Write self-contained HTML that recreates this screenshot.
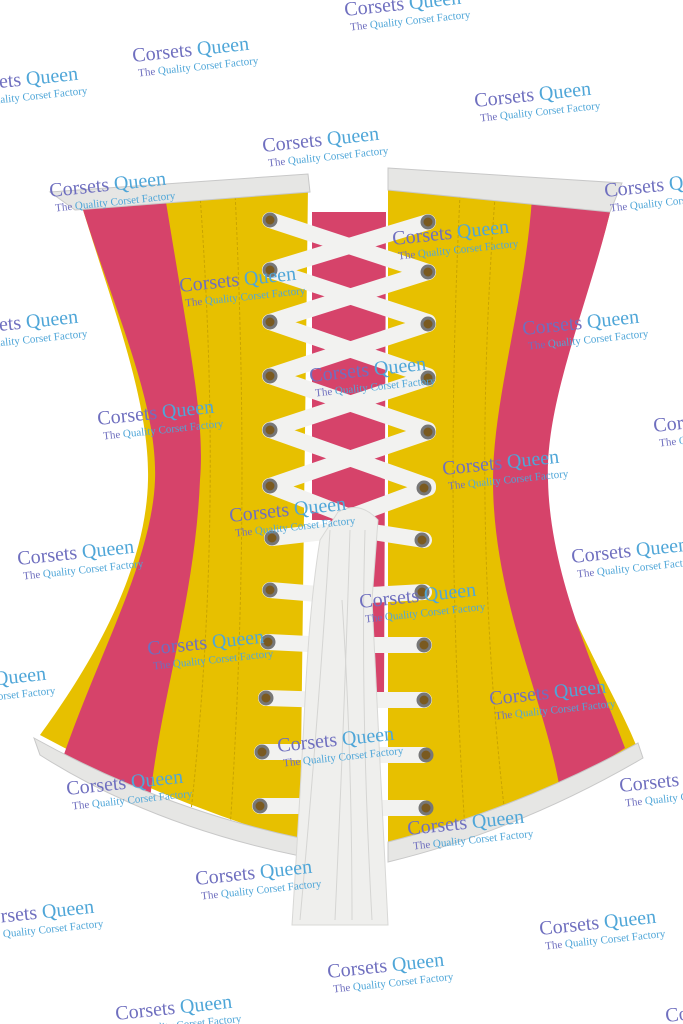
<!DOCTYPE html>
<html><head><meta charset="utf-8"><style>
html,body{margin:0;padding:0;background:#fff;}
svg{display:block}
.w1{font-family:"Liberation Serif",serif;font-size:20px;}
.w2{font-family:"Liberation Serif",serif;font-size:11px;}
</style></head><body>
<svg width="683" height="1024" viewBox="0 0 683 1024" xmlns="http://www.w3.org/2000/svg">
<!-- center pink gap -->
<path d="M312,212 L386,212 L384,700 L370,700 L366,560 L330,520 L312,520 Z" fill="#d6436a"/>
<!-- left half -->
<path d="M80,200 L308,186 L300,842 Q160,800 40,735 C80,680 146,580 148,480 C150,400 110,300 80,200 Z" fill="#e7c000"/>
<path d="M80,200 L165,196 C190,350 205,420 200,480 C195,600 160,700 150,800 L62,760 C100,650 152,560 155,480 C158,400 110,300 80,200 Z" fill="#d6436a"/>
<!-- right half -->
<path d="M388,188 L612,204 C590,300 540,400 540,480 C540,580 610,680 636,745 Q520,810 388,845 Z" fill="#e7c000"/>
<path d="M532,198 L612,204 C590,300 545,400 548,480 C550,580 600,680 625,748 L560,790 C545,700 493,600 493,480 C493,400 525,300 532,198 Z" fill="#d6436a"/>
<!-- seams -->
<g stroke="#c9a400" stroke-width="1" stroke-dasharray="3,2" fill="none">
<path d="M200,195 C215,400 215,600 190,820"/><path d="M235,192 C245,400 245,600 230,830"/>
<path d="M460,195 C450,400 450,600 465,830"/><path d="M495,197 C480,400 480,600 505,815"/>
</g>
<!-- trim -->
<path d="M50,192 L308,174 L310,192 L75,210 Z" fill="#e6e6e4" stroke="#c8c8c8"/>
<path d="M388,168 L622,183 L610,212 L388,190 Z" fill="#e6e6e4" stroke="#c8c8c8"/>
<path d="M34,738 Q160,808 300,838 L300,856 Q150,825 40,755 Z" fill="#e6e6e4" stroke="#c8c8c8"/>
<path d="M388,842 Q520,808 638,743 L643,758 Q520,830 388,862 Z" fill="#e6e6e4" stroke="#c8c8c8"/>
<!-- laces crosses -->
<g stroke="#f2f2f0" stroke-width="16" stroke-linecap="round">
<line x1="270" y1="220" x2="428" y2="272"/><line x1="428" y1="222" x2="270" y2="270"/>
<line x1="270" y1="270" x2="428" y2="322"/><line x1="428" y1="272" x2="270" y2="322"/>
<line x1="270" y1="322" x2="428" y2="376"/><line x1="428" y1="324" x2="270" y2="376"/>
<line x1="270" y1="376" x2="428" y2="430"/><line x1="428" y1="378" x2="270" y2="430"/>
<line x1="270" y1="430" x2="428" y2="486"/><line x1="428" y1="432" x2="270" y2="486"/>
<line x1="270" y1="486" x2="345" y2="515"/><line x1="428" y1="488" x2="355" y2="515"/>
<line x1="272" y1="538" x2="342" y2="530"/><line x1="424" y1="540" x2="360" y2="530"/>
<line x1="270" y1="590" x2="330" y2="595"/><line x1="424" y1="592" x2="370" y2="595"/>
<line x1="268" y1="642" x2="330" y2="645"/><line x1="424" y1="645" x2="370" y2="645"/>
<line x1="266" y1="698" x2="330" y2="700"/><line x1="424" y1="700" x2="370" y2="700"/>
<line x1="262" y1="752" x2="330" y2="752"/><line x1="424" y1="755" x2="370" y2="755"/>
<line x1="260" y1="806" x2="330" y2="806"/><line x1="424" y1="808" x2="370" y2="808"/>
</g>
<!-- hanging laces -->
<path d="M338,512 Q360,500 378,520 L372,600 Q380,750 388,925 L292,925 Q300,800 305,700 Q310,600 320,540 Z" fill="#efefed" stroke="#d8d8d6"/>
<g stroke="#d5d5d3" stroke-width="1" fill="none">
<path d="M330,530 Q320,700 300,920"/><path d="M350,530 Q345,700 335,920"/><path d="M365,530 Q360,700 372,920"/><path d="M342,600 Q352,750 352,920"/>
</g>
<!-- grommets -->
<g fill="#7a5a20" stroke="#777" stroke-width="3">
<circle cx="270" cy="220" r="6"/><circle cx="428" cy="222" r="6"/>
<circle cx="270" cy="270" r="6"/><circle cx="428" cy="272" r="6"/>
<circle cx="270" cy="322" r="6"/><circle cx="428" cy="324" r="6"/>
<circle cx="270" cy="376" r="6"/><circle cx="428" cy="378" r="6"/>
<circle cx="270" cy="430" r="6"/><circle cx="428" cy="432" r="6"/>
<circle cx="270" cy="486" r="6"/><circle cx="424" cy="488" r="6"/>
<circle cx="272" cy="538" r="6"/><circle cx="422" cy="540" r="6"/>
<circle cx="270" cy="590" r="6"/><circle cx="422" cy="592" r="6"/>
<circle cx="268" cy="642" r="6"/><circle cx="424" cy="645" r="6"/>
<circle cx="266" cy="698" r="6"/><circle cx="424" cy="700" r="6"/>
<circle cx="262" cy="752" r="6"/><circle cx="426" cy="755" r="6"/>
<circle cx="260" cy="806" r="6"/><circle cx="426" cy="808" r="6"/>
</g>
<!-- watermarks -->
<g>
<g transform="translate(133,62) rotate(-6)"><text class="w1" fill="#6f6fbf">Corsets <tspan fill="#4fa6d8">Queen</tspan></text><text class="w2" x="4" y="15" fill="#6f6fbf">The <tspan fill="#4fa6d8">Quality Corset Factory</tspan></text></g>
<g transform="translate(345,16) rotate(-6)"><text class="w1" fill="#6f6fbf">Corsets <tspan fill="#4fa6d8">Queen</tspan></text><text class="w2" x="4" y="15" fill="#6f6fbf">The <tspan fill="#4fa6d8">Quality Corset Factory</tspan></text></g>
<g transform="translate(-38,92) rotate(-6)"><text class="w1" fill="#6f6fbf">Corsets <tspan fill="#4fa6d8">Queen</tspan></text><text class="w2" x="4" y="15" fill="#6f6fbf">The <tspan fill="#4fa6d8">Quality Corset Factory</tspan></text></g>
<g transform="translate(475,107) rotate(-6)"><text class="w1" fill="#6f6fbf">Corsets <tspan fill="#4fa6d8">Queen</tspan></text><text class="w2" x="4" y="15" fill="#6f6fbf">The <tspan fill="#4fa6d8">Quality Corset Factory</tspan></text></g>
<g transform="translate(263,152) rotate(-6)"><text class="w1" fill="#6f6fbf">Corsets <tspan fill="#4fa6d8">Queen</tspan></text><text class="w2" x="4" y="15" fill="#6f6fbf">The <tspan fill="#4fa6d8">Quality Corset Factory</tspan></text></g>
<g transform="translate(50,197) rotate(-6)"><text class="w1" fill="#6f6fbf">Corsets <tspan fill="#4fa6d8">Queen</tspan></text><text class="w2" x="4" y="15" fill="#6f6fbf">The <tspan fill="#4fa6d8">Quality Corset Factory</tspan></text></g>
<g transform="translate(605,197) rotate(-6)"><text class="w1" fill="#6f6fbf">Corsets <tspan fill="#4fa6d8">Queen</tspan></text><text class="w2" x="4" y="15" fill="#6f6fbf">The <tspan fill="#4fa6d8">Quality Corset Factory</tspan></text></g>
<g transform="translate(393,245) rotate(-6)"><text class="w1" fill="#6f6fbf">Corsets <tspan fill="#4fa6d8">Queen</tspan></text><text class="w2" x="4" y="15" fill="#6f6fbf">The <tspan fill="#4fa6d8">Quality Corset Factory</tspan></text></g>
<g transform="translate(180,292) rotate(-6)"><text class="w1" fill="#6f6fbf">Corsets <tspan fill="#4fa6d8">Queen</tspan></text><text class="w2" x="4" y="15" fill="#6f6fbf">The <tspan fill="#4fa6d8">Quality Corset Factory</tspan></text></g>
<g transform="translate(-38,335) rotate(-6)"><text class="w1" fill="#6f6fbf">Corsets <tspan fill="#4fa6d8">Queen</tspan></text><text class="w2" x="4" y="15" fill="#6f6fbf">The <tspan fill="#4fa6d8">Quality Corset Factory</tspan></text></g>
<g transform="translate(523,335) rotate(-6)"><text class="w1" fill="#6f6fbf">Corsets <tspan fill="#4fa6d8">Queen</tspan></text><text class="w2" x="4" y="15" fill="#6f6fbf">The <tspan fill="#4fa6d8">Quality Corset Factory</tspan></text></g>
<g transform="translate(310,382) rotate(-6)"><text class="w1" fill="#6f6fbf">Corsets <tspan fill="#4fa6d8">Queen</tspan></text><text class="w2" x="4" y="15" fill="#6f6fbf">The <tspan fill="#4fa6d8">Quality Corset Factory</tspan></text></g>
<g transform="translate(98,425) rotate(-6)"><text class="w1" fill="#6f6fbf">Corsets <tspan fill="#4fa6d8">Queen</tspan></text><text class="w2" x="4" y="15" fill="#6f6fbf">The <tspan fill="#4fa6d8">Quality Corset Factory</tspan></text></g>
<g transform="translate(654,432) rotate(-6)"><text class="w1" fill="#6f6fbf">Corsets <tspan fill="#4fa6d8">Queen</tspan></text><text class="w2" x="4" y="15" fill="#6f6fbf">The <tspan fill="#4fa6d8">Quality Corset Factory</tspan></text></g>
<g transform="translate(443,475) rotate(-6)"><text class="w1" fill="#6f6fbf">Corsets <tspan fill="#4fa6d8">Queen</tspan></text><text class="w2" x="4" y="15" fill="#6f6fbf">The <tspan fill="#4fa6d8">Quality Corset Factory</tspan></text></g>
<g transform="translate(230,522) rotate(-6)"><text class="w1" fill="#6f6fbf">Corsets <tspan fill="#4fa6d8">Queen</tspan></text><text class="w2" x="4" y="15" fill="#6f6fbf">The <tspan fill="#4fa6d8">Quality Corset Factory</tspan></text></g>
<g transform="translate(18,565) rotate(-6)"><text class="w1" fill="#6f6fbf">Corsets <tspan fill="#4fa6d8">Queen</tspan></text><text class="w2" x="4" y="15" fill="#6f6fbf">The <tspan fill="#4fa6d8">Quality Corset Factory</tspan></text></g>
<g transform="translate(572,563) rotate(-6)"><text class="w1" fill="#6f6fbf">Corsets <tspan fill="#4fa6d8">Queen</tspan></text><text class="w2" x="4" y="15" fill="#6f6fbf">The <tspan fill="#4fa6d8">Quality Corset Factory</tspan></text></g>
<g transform="translate(360,608) rotate(-6)"><text class="w1" fill="#6f6fbf">Corsets <tspan fill="#4fa6d8">Queen</tspan></text><text class="w2" x="4" y="15" fill="#6f6fbf">The <tspan fill="#4fa6d8">Quality Corset Factory</tspan></text></g>
<g transform="translate(148,655) rotate(-6)"><text class="w1" fill="#6f6fbf">Corsets <tspan fill="#4fa6d8">Queen</tspan></text><text class="w2" x="4" y="15" fill="#6f6fbf">The <tspan fill="#4fa6d8">Quality Corset Factory</tspan></text></g>
<g transform="translate(-70,692) rotate(-6)"><text class="w1" fill="#6f6fbf">Corsets <tspan fill="#4fa6d8">Queen</tspan></text><text class="w2" x="4" y="15" fill="#6f6fbf">The <tspan fill="#4fa6d8">Quality Corset Factory</tspan></text></g>
<g transform="translate(490,705) rotate(-6)"><text class="w1" fill="#6f6fbf">Corsets <tspan fill="#4fa6d8">Queen</tspan></text><text class="w2" x="4" y="15" fill="#6f6fbf">The <tspan fill="#4fa6d8">Quality Corset Factory</tspan></text></g>
<g transform="translate(278,752) rotate(-6)"><text class="w1" fill="#6f6fbf">Corsets <tspan fill="#4fa6d8">Queen</tspan></text><text class="w2" x="4" y="15" fill="#6f6fbf">The <tspan fill="#4fa6d8">Quality Corset Factory</tspan></text></g>
<g transform="translate(67,795) rotate(-6)"><text class="w1" fill="#6f6fbf">Corsets <tspan fill="#4fa6d8">Queen</tspan></text><text class="w2" x="4" y="15" fill="#6f6fbf">The <tspan fill="#4fa6d8">Quality Corset Factory</tspan></text></g>
<g transform="translate(620,792) rotate(-6)"><text class="w1" fill="#6f6fbf">Corsets <tspan fill="#4fa6d8">Queen</tspan></text><text class="w2" x="4" y="15" fill="#6f6fbf">The <tspan fill="#4fa6d8">Quality Corset Factory</tspan></text></g>
<g transform="translate(408,835) rotate(-6)"><text class="w1" fill="#6f6fbf">Corsets <tspan fill="#4fa6d8">Queen</tspan></text><text class="w2" x="4" y="15" fill="#6f6fbf">The <tspan fill="#4fa6d8">Quality Corset Factory</tspan></text></g>
<g transform="translate(196,885) rotate(-6)"><text class="w1" fill="#6f6fbf">Corsets <tspan fill="#4fa6d8">Queen</tspan></text><text class="w2" x="4" y="15" fill="#6f6fbf">The <tspan fill="#4fa6d8">Quality Corset Factory</tspan></text></g>
<g transform="translate(-22,925) rotate(-6)"><text class="w1" fill="#6f6fbf">Corsets <tspan fill="#4fa6d8">Queen</tspan></text><text class="w2" x="4" y="15" fill="#6f6fbf">The <tspan fill="#4fa6d8">Quality Corset Factory</tspan></text></g>
<g transform="translate(540,935) rotate(-6)"><text class="w1" fill="#6f6fbf">Corsets <tspan fill="#4fa6d8">Queen</tspan></text><text class="w2" x="4" y="15" fill="#6f6fbf">The <tspan fill="#4fa6d8">Quality Corset Factory</tspan></text></g>
<g transform="translate(328,978) rotate(-6)"><text class="w1" fill="#6f6fbf">Corsets <tspan fill="#4fa6d8">Queen</tspan></text><text class="w2" x="4" y="15" fill="#6f6fbf">The <tspan fill="#4fa6d8">Quality Corset Factory</tspan></text></g>
<g transform="translate(116,1020) rotate(-6)"><text class="w1" fill="#6f6fbf">Corsets <tspan fill="#4fa6d8">Queen</tspan></text><text class="w2" x="4" y="15" fill="#6f6fbf">The <tspan fill="#4fa6d8">Quality Corset Factory</tspan></text></g>
<g transform="translate(666,1022) rotate(-6)"><text class="w1" fill="#6f6fbf">Corsets <tspan fill="#4fa6d8">Queen</tspan></text><text class="w2" x="4" y="15" fill="#6f6fbf">The <tspan fill="#4fa6d8">Quality Corset Factory</tspan></text></g>
</g>
</svg>
</body></html>
